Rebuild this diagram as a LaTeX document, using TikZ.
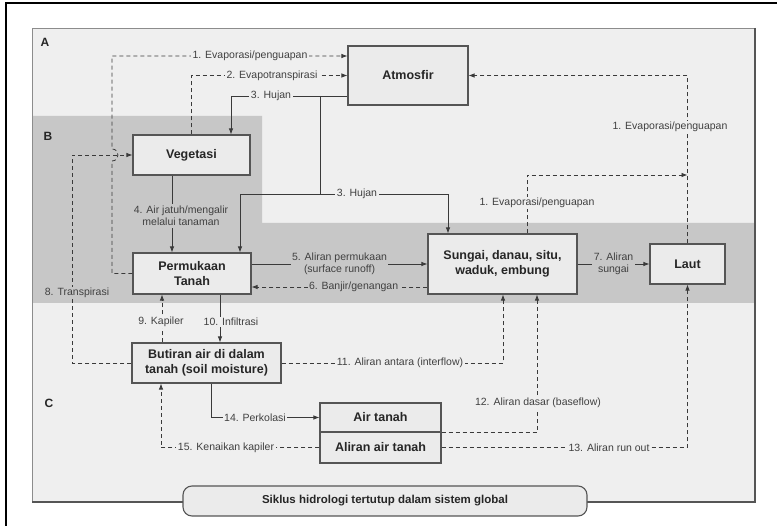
\documentclass[tikz,border=0pt]{standalone}
\usepackage{fontspec}
\setmainfont{Liberation Sans}
\usetikzlibrary{arrows.meta}
\definecolor{panel}{HTML}{EFEFEF}
\definecolor{band}{HTML}{C7C7C7}
\definecolor{boxfill}{HTML}{EBEBEB}
\definecolor{ink}{HTML}{3A3A3A}
\definecolor{edge}{HTML}{555555}
\tikzset{
  box/.style={draw=edge, line width=1.1pt, fill=boxfill, align=center,
    font=\fontsize{12.5}{14.5}\selectfont\bfseries, text=black!85, inner sep=0pt},
  flow/.style={draw=ink, line width=0.8pt},
  dsh/.style={flow, dash pattern=on 4pt off 3pt},
  arr/.style={-{Latex[length=6pt,width=4.5pt]}},
  lbl/.style={font=\fontsize{10.5}{12.5}\selectfont, text=black!75, inner sep=1.5pt, align=center},
  lblA/.style={lbl, fill=panel},
  lblB/.style={lbl, fill=band},
  region/.style={font=\fontsize{12}{14}\selectfont\bfseries, text=black!85}
}
\begin{document}
\begin{tikzpicture}[x=1pt,y=-1pt]
\useasboundingbox (0,0) rectangle (777,526);
% page frame
\draw[black, line width=1.5pt] (6,526) -- (6,3) -- (777,3);
% main panel and shaded zone B
\fill[panel] (32,28) rectangle (755,502);
\fill[band] (32,116) -- (262,116) -- (262,223) -- (755,223) -- (755,303) -- (32,303) -- cycle;
\draw[black!45, line width=0.8pt] (32,502) -- (32,28) -- (755,28);
\draw[edge, line width=1.4pt] (755,28) -- (755,502) -- (32,502);
% zone letters
\node[region] (za) at (45,42) {A};
\node[region] (zb) at (48,136) {B};
\node[region] (zc) at (49,403) {C};
% boxes
\node[box, minimum width=120pt, minimum height=59pt] (atm) at (408,75.5) {Atmosfir};
\node[box, minimum width=117pt, minimum height=40pt] (veg) at (191.5,155) {Vegetasi};
\node[box, minimum width=118pt, minimum height=41pt] (perm) at (192,273.5) {Permukaan\\Tanah};
\node[box, minimum width=149pt, minimum height=60pt] (sungai) at (502.5,264) {Sungai, danau, situ,\\waduk, embung};
\node[box, minimum width=75pt, minimum height=40pt] (laut) at (687.5,264) {Laut};
\node[box, minimum width=149pt, minimum height=40pt] (butiran) at (206.5,363) {Butiran air di dalam\\tanah (soil moisture)};
\node[box, minimum width=121pt, minimum height=29pt] (airtanah) at (380.5,417.5) {Air tanah};
\node[box, minimum width=121pt, minimum height=31pt] (aliran) at (380.5,447.5) {Aliran air tanah};
\node[box, rounded corners=9pt, minimum width=404pt, minimum height=30pt,
  font=\fontsize{11.5}{13}\selectfont\bfseries] (cap) at (385,501) {Siklus hidrologi tertutup dalam sistem global};
% helper points
\coordinate (e1) at (112,56);
\coordinate (h3) at (320,96);
\coordinate (h3b) at (320,194);
\coordinate (evj) at (687.5,175);
% 1. evaporation from the land surface
\draw[dsh, arr] (perm.west) -- (112,273.5) -- (112,161)
  .. controls (120,161) and (120,149) .. (112,149) -- (e1) -- (atm.west |- e1);
\node[lblA] (l1) at (250,56) {1. Evaporasi/penguapan};
% 2. evapotranspiration
\draw[dsh, arr] (veg.north) |- (atm.west);
\node[lblA] (l2) at (272,75.5) {2. Evapotranspirasi};
% 3. rain
\draw[flow, arr] (atm.west |- h3) -| ([xshift=39.5pt]veg.north);
\node[lblA] (l3) at (271,96) {3. Hujan};
\draw[flow] (h3) -- (h3b);
\draw[flow, arr] (h3b) -| ([xshift=48pt]perm.north);
\draw[flow, arr] (h3b) -| ([xshift=-54.5pt]sungai.north);
\node[lblA] (l3b) at (357,194) {3. Hujan};
% 4. throughfall
\draw[flow, arr] ([xshift=-19.5pt]veg.south) -- ([xshift=-20pt]perm.north);
\node[lblB] (l4) at (181,216) {4. Air jatuh/mengalir\\melalui tanaman};
% 5. surface runoff
\draw[flow, arr] (perm.east |- sungai.west) -- node[lblB] (l5) {5. Aliran permukaan\\(surface runoff)} (sungai.west);
% 6. flooding
\draw[dsh, arr] ([yshift=-23pt]sungai.west) -- node[lblB, pos=0.42] (l6) {6. Banjir/genangan} (perm.east |- 0,287);
% 7. river flow
\draw[flow, arr] (sungai.east) -- node[lblB] (l7) {7. Aliran\\sungai} (laut.west);
% 1. evaporation from the sea and open water
\draw[dsh, arr] (laut.north) |- (atm.east);
\node[lblA] (l1b) at (670,127) {1. Evaporasi/penguapan};
\draw[dsh, arr] ([xshift=24.5pt]sungai.north) |- (evj);
\node[lblA] (l1c) at (537,203) {1. Evaporasi/penguapan};
% 8. transpiration
\draw[dsh, arr] (butiran.west) -- ++(-59,0) |- (veg.west);
\node[lblB] (l8) at (77,293) {8. Transpirasi};
% 9. capillary rise, 10. infiltration
\draw[dsh, arr] ([xshift=-44.5pt]butiran.north) -- ([xshift=-30pt]perm.south);
\node[lblA] (l9) at (161,322) {9. Kapiler};
\draw[flow, arr] ([xshift=28pt]perm.south) -- ([xshift=13.5pt]butiran.north);
\node[lblA] (l10) at (231,322) {10. Infiltrasi};
% 11. interflow
\draw[dsh, arr] (butiran.east) -| ([xshift=0.5pt]sungai.south);
\node[lblA] (l11) at (400,363) {11. Aliran antara (interflow)};
% 12. baseflow
\draw[dsh, arr] (airtanah.south east) -| ([xshift=34.5pt]sungai.south);
\node[lblA] (l12) at (538,403) {12. Aliran dasar (baseflow)};
% 13. run out
\draw[dsh, arr] (aliran.east) -| (laut.south);
\node[lblA] (l13) at (609,447.5) {13. Aliran run out};
% 14. percolation
\draw[flow, arr] ([xshift=4.5pt]butiran.south) |- (airtanah.west);
\node[lblA] (l14) at (255,417.5) {14. Perkolasi};
% 15. capillary rise from groundwater
\draw[dsh, arr] (aliran.west) -| ([xshift=-45.5pt]butiran.south);
\node[lblA] (l15) at (226,447.5) {15. Kenaikan kapiler};
\end{tikzpicture}
\end{document}
